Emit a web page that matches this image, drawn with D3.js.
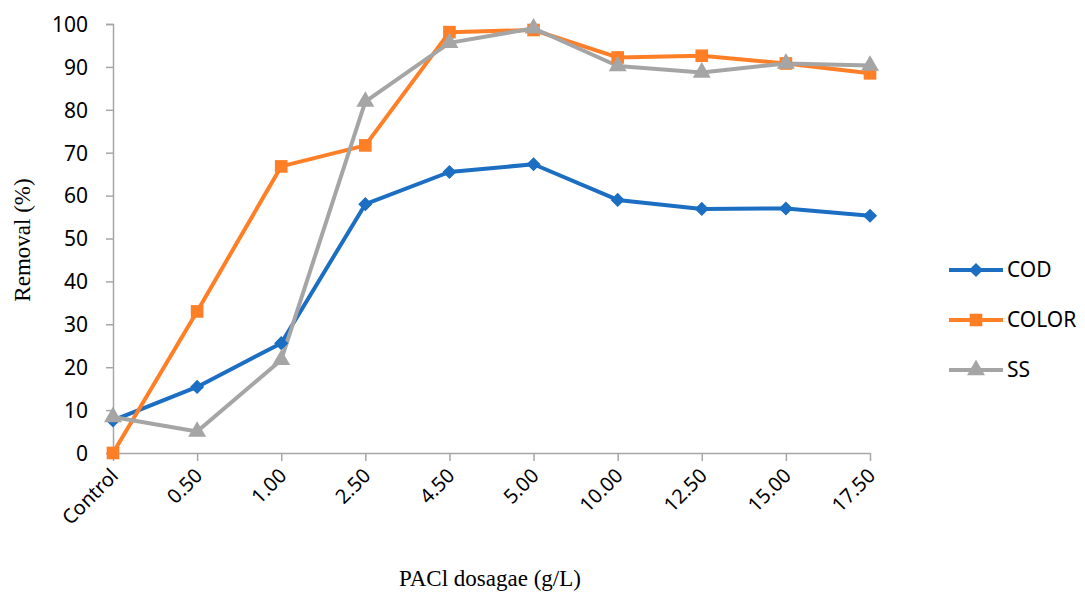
<!DOCTYPE html>
<html>
<head>
<meta charset="utf-8">
<script src="https://cdn.jsdelivr.net/npm/d3@7"></script>
<style>
  body { margin: 0; background: #fff; }
  .tick text { font-family: "Noto Sans", sans-serif; fill: #000; }
</style>
</head>
<body>
<svg id="chart" width="1085" height="595"></svg>
<script>
// Data
var categories = ['Control', '0.50', '1.00', '2.50', '4.50', '5.00', '10.00', '12.50', '15.00', '17.50']
var cod = [7.6, 15.4, 25.6, 58.0, 65.5, 67.3, 59.0, 56.9, 57.0, 55.3]
var color = [0, 33.0, 66.8, 71.7, 98.1, 98.6, 92.2, 92.6, 90.8, 88.5]
var ss = [8.4, 5.0, 21.7, 81.9, 95.6, 99.0, 90.2, 88.7, 90.8, 90.3]
var yTicks = [0, 10, 20, 30, 40, 50, 60, 70, 80, 90, 100]

// diamond = square turned by 45 degrees
var series = [
  { name: 'COD', values: cod, stroke: '#1b6ec2', symbol: d3.symbolSquare, size: 100, rot: 45 },
  { name: 'COLOR', values: color, stroke: '#ff7f27', symbol: d3.symbolSquare, size: 160, rot: 0 },
  { name: 'SS', values: ss, stroke: '#a5a5a5', symbol: d3.symbolTriangle, size: 140, rot: 0 }
]

var svg = d3.select('#chart')
var axisColor = '#a6a6a6'

// Scales
var x = d3.scalePoint().domain(categories).range([113, 870])
var y = d3.scaleLinear().domain([0, 100]).range([453, 24])

// Y axis
var yAxis = svg.append('g')
  .attr('transform', 'translate(113,0)')
  .call(d3.axisLeft(y).tickValues(yTicks).tickSize(7).tickPadding(18))
yAxis.selectAll('line').attr('stroke', axisColor).attr('stroke-width', 1.5)
yAxis.select('.domain').attr('stroke', axisColor).attr('stroke-width', 1.5)
yAxis.selectAll('text').style('font-size', '21px').attr('dy', '0.35em')

// X axis
var xAxis = svg.append('g')
  .attr('transform', 'translate(0,453)')
  .call(d3.axisBottom(x).tickSize(8).tickSizeOuter(0))
xAxis.selectAll('line').attr('stroke', axisColor).attr('stroke-width', 1.5)
xAxis.select('.domain').attr('stroke', axisColor).attr('stroke-width', 1.5)
  .attr('d', 'M113,0.5H870')
xAxis.selectAll('text')
  .style('font-size', '20px')
  .attr('text-anchor', 'end')
  .attr('dy', null)
  .attr('y', 0)
  .attr('transform', 'translate(6,24) rotate(-45)')

// Lines and markers
var line = d3.line()
  .x((d, i) => x(categories[i]))
  .y(d => y(d))

series.forEach(s => {
  svg.append('path')
    .datum(s.values)
    .attr('fill', 'none')
    .attr('stroke', s.stroke)
    .attr('stroke-width', 4)
    .attr('stroke-linejoin', 'round')
    .attr('d', line)
})

series.forEach(s => {
  svg.append('g')
    .selectAll('path')
    .data(s.values)
    .enter()
    .append('path')
    .attr('d', d3.symbol().type(s.symbol).size(s.size))
    .attr('transform', (d, i) => 'translate(' + x(categories[i]) + ',' + y(d) + ') rotate(' + s.rot + ')')
    .attr('fill', s.stroke)
})

// Axis titles
svg.append('text')
  .attr('transform', 'translate(30,240) rotate(-90)')
  .attr('text-anchor', 'middle')
  .style('font-family', '"Liberation Serif", "Times New Roman", serif')
  .style('font-size', '23px')
  .text('Removal (%)')

svg.append('text')
  .attr('x', 490)
  .attr('y', 586)
  .attr('text-anchor', 'middle')
  .style('font-family', '"Liberation Serif", "Times New Roman", serif')
  .style('font-size', '23px')
  .text('PACl dosagae (g/L)')

// Legend
var legend = svg.append('g')
  .selectAll('g')
  .data(series)
  .enter()
  .append('g')
  .attr('transform', (d, i) => 'translate(949,' + (270 + i * 50) + ')')

legend.append('line')
  .attr('x1', 0).attr('x2', 54)
  .attr('stroke', d => d.stroke)
  .attr('stroke-width', 4)

legend.append('path')
  .attr('d', d => d3.symbol().type(d.symbol).size(d.size)())
  .attr('transform', d => 'translate(27,0) rotate(' + d.rot + ')')
  .attr('fill', d => d.stroke)

legend.append('text')
  .attr('x', 58)
  .attr('dy', '0.35em')
  .style('font-family', '"Noto Sans", sans-serif')
  .style('font-size', '21px')
  .text(d => d.name)
</script>
</body>
</html>
